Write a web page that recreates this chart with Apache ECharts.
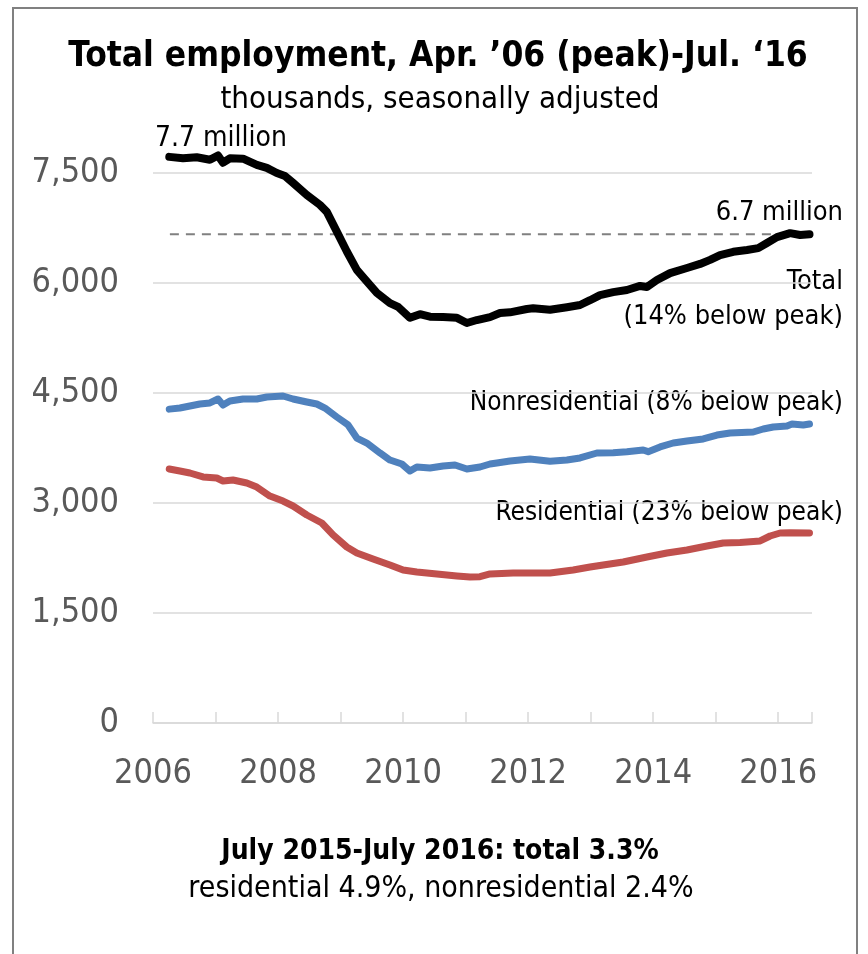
<!DOCTYPE html>
<html>
  <head>
    <meta charset="UTF-8" />
    <title>Total employment</title>
    <style>
      html, body { margin: 0; padding: 0; background: #fff; }
      #chart { width: 868px; height: 954px; }
    </style>
    <script src="https://cdn.jsdelivr.net/npm/echarts@6/dist/echarts.min.js"></script>
  </head>
  <body>
    <div id="chart"></div>
    <script>
      var FONT = '"Liberation Sans Narrow", "DejaVu Sans Condensed", "Open Sans", sans-serif';

      // tick labels
      var yTicks = [0, 1500, 3000, 4500, 6000, 7500];

      // total employment (thousands), decimal year / value
      var totalYears = [2006.26, 2006.48, 2006.7, 2006.91, 2007.04, 2007.12, 2007.23, 2007.44, 2007.66, 2007.82,
        2007.98, 2008.11, 2008.24, 2008.46, 2008.67, 2008.78, 2008.94, 2009.1, 2009.26, 2009.36,
        2009.58, 2009.79, 2009.92, 2010.11, 2010.27, 2010.43, 2010.64, 2010.86, 2011.02, 2011.18,
        2011.39, 2011.55, 2011.71, 2011.98, 2012.08, 2012.35, 2012.62, 2012.83, 2012.99, 2013.15,
        2013.36, 2013.58, 2013.79, 2013.9, 2014.06, 2014.27, 2014.54, 2014.75, 2014.91, 2015.07,
        2015.28, 2015.5, 2015.68, 2015.82, 2015.98, 2016.19, 2016.35, 2016.5];
      var totalVals = [7720, 7700, 7715, 7680, 7740, 7640, 7700, 7695, 7610, 7570,
        7500, 7460, 7365, 7200, 7065, 6970, 6700, 6430, 6180, 6080,
        5865, 5725, 5675, 5525, 5575, 5540, 5535, 5525, 5455, 5495,
        5535, 5590, 5600, 5645, 5655, 5635, 5670, 5700, 5765, 5835,
        5875, 5905, 5960, 5945, 6040, 6135, 6205, 6260, 6315, 6380,
        6425, 6450, 6475, 6545, 6625, 6680, 6655, 6665];

      var nonresYears = [2006.26, 2006.43, 2006.59, 2006.75, 2006.91, 2007.04, 2007.12, 2007.23, 2007.44, 2007.66,
        2007.82, 2008.08, 2008.24, 2008.46, 2008.62, 2008.75, 2008.94, 2009.12, 2009.26, 2009.42,
        2009.63, 2009.79, 2009.98, 2010.11, 2010.22, 2010.43, 2010.64, 2010.83, 2011.02, 2011.23,
        2011.39, 2011.5, 2011.71, 2012.03, 2012.35, 2012.62, 2012.83, 2013.1, 2013.36, 2013.58,
        2013.84, 2013.92, 2014.11, 2014.32, 2014.54, 2014.8, 2015.02, 2015.23, 2015.6, 2015.76,
        2015.92, 2016.14, 2016.22, 2016.4, 2016.5];
      var nonresVals = [4280, 4295, 4323, 4350, 4364, 4418, 4336, 4391, 4418, 4418,
        4445, 4459, 4418, 4377, 4350, 4295, 4173, 4064, 3886, 3818,
        3682, 3586, 3532, 3436, 3491, 3477, 3505, 3518, 3464, 3491,
        3532, 3545, 3573, 3600, 3570, 3586, 3614, 3682, 3686, 3700,
        3723, 3700, 3764, 3818, 3845, 3873, 3927, 3955, 3968, 4009,
        4036, 4050, 4077, 4064, 4077];

      var resYears = [2006.26, 2006.43, 2006.59, 2006.8, 2007.02, 2007.12, 2007.28, 2007.5, 2007.66, 2007.87,
        2008.08, 2008.24, 2008.46, 2008.7, 2008.88, 2009.1, 2009.26, 2009.52, 2009.79, 2010.0,
        2010.22, 2010.54, 2010.86, 2011.07, 2011.23, 2011.39, 2011.76, 2012.35, 2012.72, 2012.99,
        2013.2, 2013.52, 2013.9, 2014.22, 2014.54, 2014.86, 2015.12, 2015.39, 2015.71, 2015.87,
        2016.03, 2016.19, 2016.5];
      var resVals = [3464, 3436, 3409, 3355, 3341, 3300, 3314, 3273, 3218, 3095,
        3027, 2959, 2836, 2727, 2564, 2400, 2318, 2236, 2155, 2086,
        2059, 2032, 2005, 1991, 1995, 2032, 2045, 2045, 2086, 2127,
        2155, 2195, 2264, 2318, 2359, 2414, 2455, 2460, 2482, 2550,
        2591, 2595, 2591];

      // dashed reference at the latest total level
      var refYears = [2006.27, 2016.5];
      var refVals = [6665, 6665];

      function pairs(xs, ys) {
        return xs.map(function (x, i) { return [x, ys[i]]; });
      }

      function lineSeries(name, xs, ys, color, width) {
        return {
          name: name,
          type: 'line',
          data: pairs(xs, ys),
          showSymbol: false,
          clip: false,
          smooth: false,
          silent: true,
          lineStyle: { color: color, width: width, cap: 'round', join: 'round' }
        };
      }

      function txt(s, x, y, size, align, bold) {
        return {
          type: 'text',
          x: x,
          y: y,
          silent: true,
          style: {
            text: s,
            fill: '#000',
            font: (bold ? 'bold ' : '') + size + 'px ' + FONT,
            textAlign: align,
            textVerticalAlign: 'middle'
          }
        };
      }

      var myChart = echarts.init(document.getElementById('chart'));

      var option = {
        backgroundColor: '#fff',
        animation: false,
        grid: { left: 153, right: 56, top: 173, bottom: 231 },
        xAxis: {
          type: 'value',
          min: 2006,
          max: 2016.54,
          interval: 1,
          splitLine: { show: false },
          axisLine: { lineStyle: { color: '#d9d9d9', width: 1.5 } },
          axisTick: { show: true, inside: true, length: 11, lineStyle: { color: '#d9d9d9', width: 1.5 } },
          axisLabel: {
            margin: 34,
            color: '#595959',
            fontSize: 34,
            fontFamily: FONT,
            formatter: function (v) { return v % 2 === 0 ? String(v) : ''; }
          }
        },
        yAxis: {
          type: 'value',
          min: yTicks[0],
          max: yTicks[yTicks.length - 1],
          interval: yTicks[1] - yTicks[0],
          axisLine: { show: false },
          axisTick: { show: false },
          splitLine: { lineStyle: { color: '#d9d9d9', width: 1.5 } },
          axisLabel: {
            margin: 34,
            color: '#595959',
            fontSize: 34,
            fontFamily: FONT,
            formatter: function (v) { return v.toLocaleString('en-US'); }
          }
        },
        series: [
          {
            name: 'ref',
            type: 'line',
            data: pairs(refYears, refVals),
            showSymbol: false,
            clip: false,
            silent: true,
            lineStyle: { color: '#808080', width: 2, type: [9, 7] }
          },
          lineSeries('Residential', resYears, resVals, '#c0504d', 7),
          lineSeries('Nonresidential', nonresYears, nonresVals, '#4f81bd', 7),
          lineSeries('Total', totalYears, totalVals, '#000000', 8)
        ],
        graphic: [
          {
            type: 'rect',
            silent: true,
            shape: { x: 13, y: 8, width: 844, height: 980 },
            style: { fill: 'none', stroke: '#808080', lineWidth: 2 }
          },
          txt('Total employment, Apr. \u201906 (peak)-Jul. \u201816', 438, 57, 35, 'center', true),
          txt('thousands, seasonally adjusted', 440, 100, 31, 'center', false),
          txt('7.7 million', 155, 139, 28, 'left', false),
          txt('6.7 million', 843, 213, 27, 'right', false),
          txt('Total', 843, 282, 27, 'right', false),
          txt('(14% below peak)', 843, 317, 27, 'right', false),
          txt('Nonresidential (8% below peak)', 843, 403, 26, 'right', false),
          txt('Residential (23% below peak)', 843, 513, 26, 'right', false),
          txt('July 2015-July 2016: total 3.3%', 440, 852, 28, 'center', true),
          txt('residential 4.9%, nonresidential 2.4%', 441, 889, 30, 'center', false)
        ]
      };

      myChart.setOption(option);
    </script>
  </body>
</html>
